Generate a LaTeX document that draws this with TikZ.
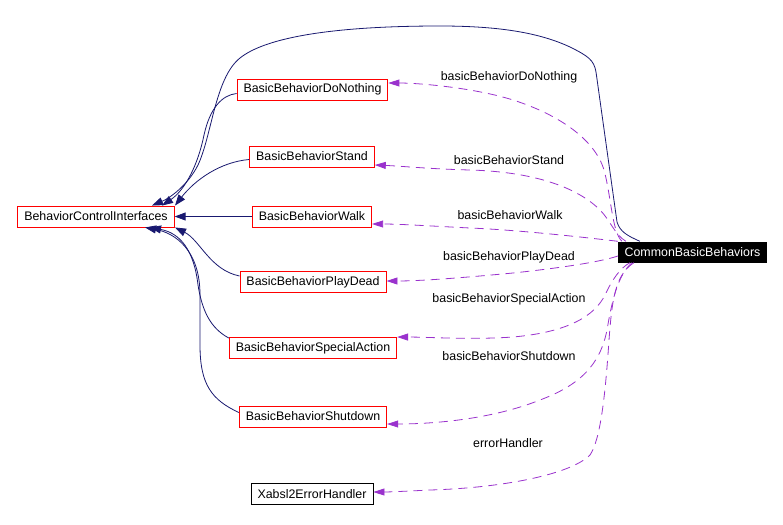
\documentclass[tikz,border=0pt]{standalone}
\usepackage{fontspec}
\setmainfont{Liberation Sans}
\usetikzlibrary{arrows.meta}
\definecolor{navyc}{HTML}{191970}
\definecolor{orchidc}{HTML}{9A32CD}
\definecolor{boxred}{HTML}{FF0000}
\tikzset{
  cls/.style={draw=boxred, line width=0.9pt, fill=white, rectangle, minimum height=21pt, inner xsep=6.5pt, inner ysep=0pt, font=\fontsize{12.4}{14}\selectfont},
  clsblack/.style={cls, draw=black},
  focus/.style={rectangle, fill=black, text=white, minimum height=21pt, inner xsep=6.5pt, inner ysep=0pt, font=\fontsize{12.4}{14}\selectfont},
  inh/.style={draw=navyc, line width=0.8pt, -{Triangle[length=11pt,width=8pt,fill=navyc]}},
  use/.style={draw=orchidc, line width=0.8pt, dash pattern=on 9pt off 6pt, -{Triangle[length=11pt,width=7pt,fill=orchidc]}},
  lbl/.style={font=\fontsize{12.4}{14}\selectfont, inner sep=0pt}
}
\begin{document}
\begin{tikzpicture}[x=1pt,y=-1pt]
\useasboundingbox (0,0) rectangle (783,524);
\fill[white] (0,0) rectangle (783,524);
% nodes
\node[cls] (bci) at (96,216.5) {BehaviorControlInterfaces};
\node[cls] (dn) at (312.5,89.5) {BasicBehaviorDoNothing};
\node[cls] (st) at (312,156.5) {BasicBehaviorStand};
\node[cls] (wk) at (312,216.5) {BasicBehaviorWalk};
\node[cls] (pd) at (313,282) {BasicBehaviorPlayDead};
\node[cls] (sa) at (313,348) {BasicBehaviorSpecialAction};
\node[cls] (sd) at (313,416.5) {BasicBehaviorShutdown};
\node[clsblack] (xe) at (312,494) {Xabsl2ErrorHandler};
\node[focus] (cbb) at (692.5,252) {CommonBasicBehaviors};
% inheritance edges
\draw[inh] ([xshift=22pt]cbb.north west) .. controls (628,236) and (620,232) .. (617,222)
  -- (596,72) .. controls (594,60) and (588,56) .. (570,47)
  .. controls (540,33) and (500,26) .. (440,26)
  .. controls (330,26) and (265,38) .. (240,58)
  .. controls (215,78) and (212,135) .. (198,165)
  .. controls (188,185) and (170,198) .. ([xshift=56pt]bci.north);
\draw[inh] ([yshift=-4pt]dn.west) .. controls (222,95) and (210,108) .. (204,135)
  .. controls (198,165) and (185,190) .. ([xshift=66pt]bci.north);
\draw[inh] ([yshift=-3pt]st.west) .. controls (220,162) and (195,180) .. ([xshift=79pt]bci.north);
\draw[inh] (wk.west) -- (bci.east);
\draw[inh] ([yshift=6pt]pd.west) .. controls (210,270) and (200,240) .. ([xshift=79pt]bci.south);
\draw[inh] ([yshift=-1pt]sa.north west) .. controls (210,328) and (202,310) .. (198,285)
  .. controls (194,250) and (180,233) .. ([xshift=54pt]bci.south);
\draw[inh] ([yshift=4pt]sd.west) .. controls (212,400) and (200,385) .. (200,345)
  -- (200,295) .. controls (200,250) and (175,233) .. ([xshift=49pt]bci.south);
% usage edges
\draw[use] ([xshift=4pt]cbb.north west) .. controls (612,232) and (611,195) .. (604,170)
  .. controls (595,140) and (560,115) .. (513,100)
  .. controls (475,88) and (420,83) .. ([yshift=6.5pt]dn.east);
\draw[use] ([xshift=8pt]cbb.north west) .. controls (615,235) and (610,220) .. (600,210)
  .. controls (580,190) and (540,172) .. (470,170)
  .. controls (430,169) and (400,166) .. ([yshift=-8.5pt]st.east);
\draw[use] (cbb.north west) .. controls (590,238) and (520,230) .. (470,228)
  .. controls (430,226) and (400,224) .. ([yshift=-7.5pt]wk.east);
\draw[use] ([yshift=-4pt]cbb.west) .. controls (600,262) and (560,268) .. (513,273)
  .. controls (460,278) and (420,281) .. ([yshift=1pt]pd.east);
\draw[use] ([xshift=12pt]cbb.south west) .. controls (620,268) and (612,280) .. (605,295)
  .. controls (595,315) and (570,332) .. (513,337)
  .. controls (470,340) and (430,337) .. (sa.north east);
\draw[use] ([xshift=14pt]cbb.south west) .. controls (618,275) and (612,300) .. (607,330)
  .. controls (600,365) and (580,385) .. (540,400)
  .. controls (490,420) and (430,424) .. ([yshift=-7.5pt]sd.east);
\draw[use] ([xshift=16pt]cbb.south west) .. controls (615,275) and (612,300) .. (609,340)
  .. controls (605,400) and (600,440) .. (590,455)
  .. controls (570,475) and (500,488) .. (430,490)
  .. controls (410,491) and (390,492) .. ([yshift=2pt]xe.east);
% labels
\node[lbl] (lDN) at (509,77) {basicBehaviorDoNothing};
\node[lbl] (lST) at (509,160) {basicBehaviorStand};
\node[lbl] (lWK) at (510,215) {basicBehaviorWalk};
\node[lbl] (lPD) at (509,257) {basicBehaviorPlayDead};
\node[lbl] (lSA) at (509,299) {basicBehaviorSpecialAction};
\node[lbl] (lSD) at (509,356) {basicBehaviorShutdown};
\node[lbl] (lEH) at (508,443) {errorHandler};
\end{tikzpicture}
\end{document}
